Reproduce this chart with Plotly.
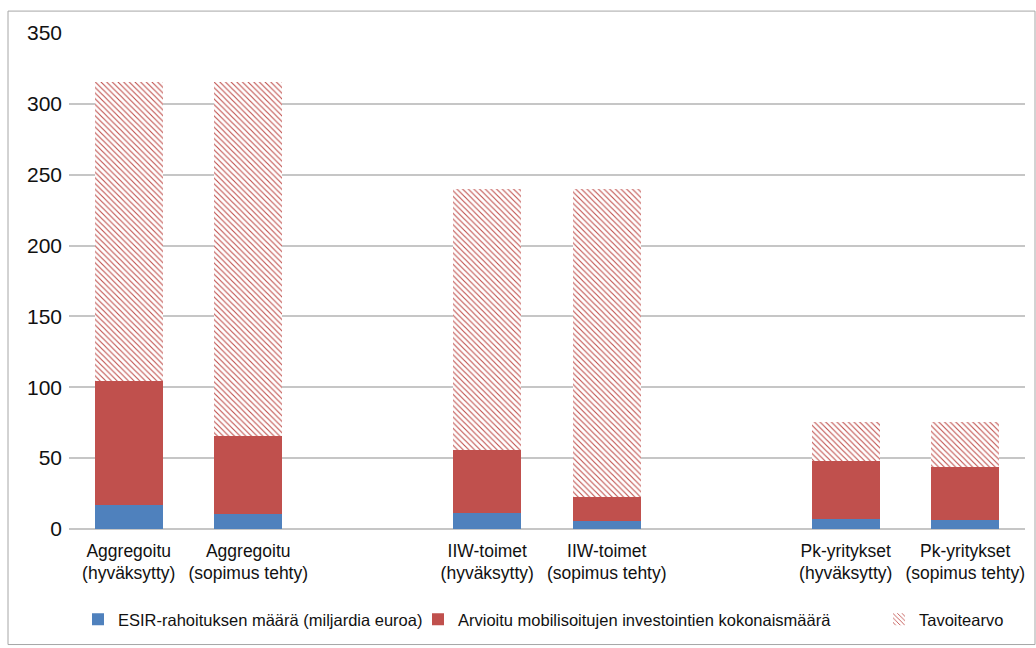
import plotly.graph_objects as go

# ---- data ----
categories = [
    "Aggregoitu<br>(hyväksytty)",
    "Aggregoitu<br>(sopimus tehty)",
    " ",
    "IIW-toimet<br>(hyväksytty)",
    "IIW-toimet<br>(sopimus tehty)",
    "  ",
    "Pk-yritykset<br>(hyväksytty)",
    "Pk-yritykset<br>(sopimus tehty)",
]
esir_funding = [16.7, 10.5, None, 11.2, 5.4, None, 7.2, 6.1]          # blue segment
mobilised_total = [104.5, 65.7, None, 56.0, 22.6, None, 48.0, 43.7]   # top of red segment
target_value = [315.5, 315.5, None, 239.7, 239.7, None, 75.2, 75.2]  # top of hatched segment

series_names = [
    "ESIR-rahoituksen määrä (miljardia euroa)",
    "Arvioitu mobilisoitujen investointien kokonaismäärä",
    "Tavoitearvo",
]
y_ticks = [0, 50, 100, 150, 200, 250, 300, 350]


def diff(top, bottom):
    return [None if t is None else t - b for t, b in zip(top, bottom)]


red_segment = diff(mobilised_total, esir_funding)
target_segment = diff(target_value, mobilised_total)

BLUE = "#4f81bd"
RED = "#c0504d"
FONT = "Liberation Sans, Arial, sans-serif"

W, H = 1036, 648
L, R, T, B = 69, 11, 33, 117
pw, ph = W - L - R, H - T - B


def px_x(x):
    return (x - L) / pw


def px_y(y):
    return (H - B - y) / ph


fig = go.Figure()
fig.add_trace(go.Bar(x=categories, y=esir_funding, name=series_names[0],
                     marker=dict(color=BLUE, line=dict(width=0)), legend="legend"))
fig.add_trace(go.Bar(x=categories, y=red_segment, name=series_names[1],
                     marker=dict(color=RED, line=dict(width=0)), legend="legend2"))
fig.add_trace(go.Bar(x=categories, y=target_segment, name=series_names[2],
                     marker=dict(color="white", line=dict(width=0),
                                 pattern=dict(shape="\\", fgcolor=RED, bgcolor="white",
                                              size=4, solidity=0.28, fillmode="replace")),
                     legend="legend3"))

leg_common = dict(orientation="h", yanchor="middle", xanchor="left",
                  font=dict(family=FONT, size=16.5, color="#111"),
                  bgcolor="rgba(0,0,0,0)", borderwidth=0)

fig.update_layout(
    width=W, height=H,
    margin=dict(l=L, r=R, t=T, b=B),
    paper_bgcolor="white", plot_bgcolor="white",
    barmode="stack", bargap=0.43,
    font=dict(family=FONT, color="#111"),
    showlegend=True,
    legend=dict(x=px_x(78), y=px_y(622), **leg_common),
    legend2=dict(x=px_x(418), y=px_y(622), **leg_common),
    legend3=dict(x=px_x(879), y=px_y(622), **leg_common),
    xaxis=dict(type="category", categoryorder="array", categoryarray=categories,
               tickfont=dict(family=FONT, size=17.5, color="#111"),
               showgrid=False, showline=False, ticks="", ticklabelstandoff=9),
    yaxis=dict(range=[0, 350], tickvals=y_ticks,
               tickfont=dict(family=FONT, size=21, color="#111"),
               showgrid=True, gridcolor="#c6c6c6", gridwidth=1.5,
               zeroline=True, zerolinecolor="#c6c6c6", zerolinewidth=1.5,
               showline=False, ticks="", ticklabelstandoff=6),
    shapes=[dict(type="rect", xref="paper", yref="paper",
                 x0=px_x(8), x1=px_x(1035), y0=px_y(647), y1=px_y(11),
                 line=dict(color="#a6a6a6", width=1), layer="below")],
)

fig.write_html("out.html",
               config={"displayModeBar": False},
               post_script="document.body.style.margin='0';document.body.style.overflow='hidden';")
